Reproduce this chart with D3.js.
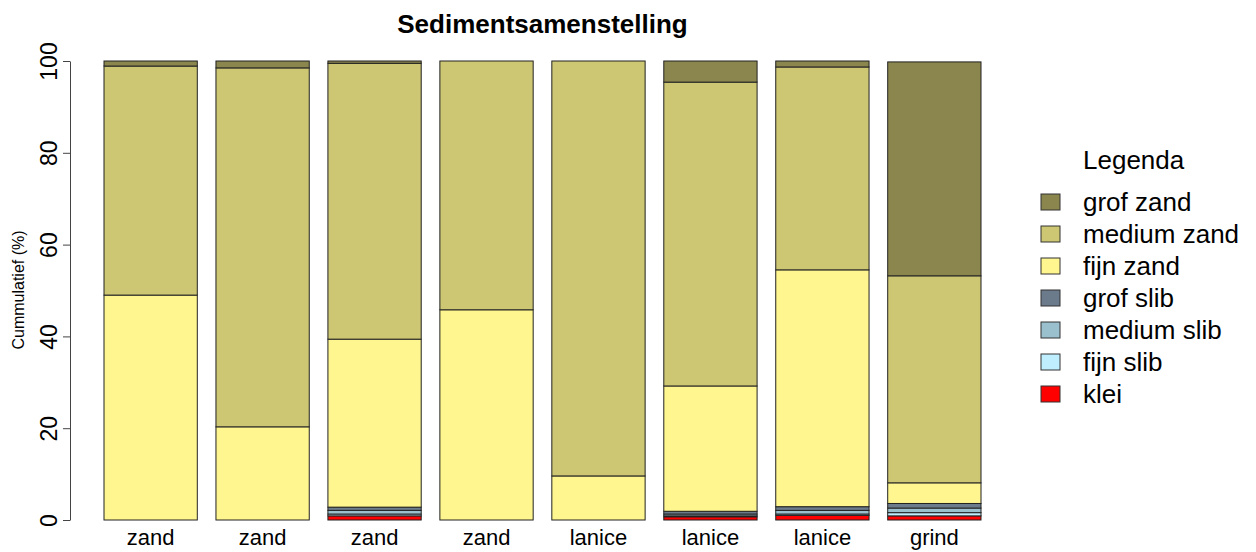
<!DOCTYPE html>
<html><head><meta charset="utf-8">
<script src="https://cdn.jsdelivr.net/npm/d3@7"></script>
<style>body{margin:0;background:#fff;} text{font-family:"Liberation Sans",Arial,sans-serif;}</style>
</head><body>
<svg id="c" width="1256" height="552"></svg>
<script>
const barLabels = ["zand","zand","zand","zand","lanice","lanice","lanice","grind"];
const klei       = [0, 0, 0.9, 0, 0, 0.7, 1.0, 0.9];
const fijnSlib   = [0, 0, 0.4, 0, 0, 0.2, 0.3, 0.7];
const mediumSlib = [0, 0, 0.8, 0, 0, 0.4, 0.8, 1.0];
const grofSlib   = [0, 0, 0.7, 0, 0, 0.6, 0.8, 1.0];
const fijnZand   = [49.0, 20.3, 36.6, 45.8, 9.6, 27.3, 51.6, 4.5];
const mediumZand = [49.9, 78.2, 60.1, 54.2, 90.4, 66.2, 44.2, 45.1];
const grofZand   = [1.1, 1.5, 0.5, 0, 0, 4.6, 1.3, 46.6];
const yTicks = [0, 20, 40, 60, 80, 100];
const seriesNames = ["klei","fijn slib","medium slib","grof slib","fijn zand","medium zand","grof zand"];
const seriesColors = ["#FF0000","#BFEFFF","#9AC0CD","#6C7B8B","#FFF68F","#CDC673","#8B864E"];
const titleText = "Sedimentsamenstelling";
const yLabel = "Cummulatief (%)";
const legendTitle = "Legenda";

const seriesVals = [klei, fijnSlib, mediumSlib, grofSlib, fijnZand, mediumZand, grofZand];
const rows = barLabels.map((l, i) => {
  const r = {i: i};
  seriesNames.forEach((s, k) => r[s] = seriesVals[k][i]);
  return r;
});
const stacked = d3.stack().keys(seriesNames)(rows);

const svg = d3.select("#c");
const x = d3.scaleBand().domain(d3.range(barLabels.length)).range([104, 981]).paddingInner(0.1667).paddingOuter(0);
const y = d3.scaleLinear().domain([0, 100]).range([520, 61]);
const color = d3.scaleOrdinal().domain(seriesNames).range(seriesColors);

svg.append("g").selectAll("g").data(stacked).join("g")
  .attr("fill", d => color(d.key))
  .selectAll("rect").data(d => d).join("rect")
  .attr("x", d => x(d.data.i))
  .attr("width", x.bandwidth())
  .attr("y", d => y(d[1]))
  .attr("height", d => Math.max(0, y(d[0]) - y(d[1])))
  .attr("stroke", "#222")
  .attr("stroke-width", 1);

// y axis
const yAxis = svg.append("g").attr("transform", "translate(70,0)")
  .call(d3.axisLeft(y).tickValues(yTicks).tickSize(7).tickSizeOuter(0));
yAxis.select(".domain").attr("stroke", "#444");
yAxis.selectAll(".tick line").attr("stroke", "#444");
yAxis.selectAll(".tick text").remove();
yAxis.selectAll(".tick").append("text")
  .attr("transform", "translate(-13,0) rotate(-90)")
  .attr("text-anchor", "middle")
  .attr("fill", "#000")
  .attr("font-size", 23)
  .attr("font-family", "Liberation Sans, Arial, sans-serif")
  .text(d => d);

// x labels
svg.append("g").selectAll("text").data(barLabels).join("text")
  .attr("x", (d, i) => x(i) + x.bandwidth() / 2)
  .attr("y", 545)
  .attr("text-anchor", "middle")
  .attr("font-size", 22)
  .text(d => d);

svg.append("text")
  .attr("transform", "translate(24,290) rotate(-90)")
  .attr("text-anchor", "middle")
  .attr("font-size", 16)
  .text(yLabel);

svg.append("text")
  .attr("x", 542.5).attr("y", 33)
  .attr("text-anchor", "middle")
  .attr("font-size", 26).attr("font-weight", "bold")
  .text(titleText);

// legend
const lg = svg.append("g");
lg.append("text").attr("x", 1083).attr("y", 169).attr("font-size", 26).text(legendTitle);
const legendOrder = seriesNames.slice().reverse();
const li = lg.selectAll("g.li").data(legendOrder).join("g").attr("class", "li")
  .attr("transform", (d, i) => `translate(0,${202 + i * 32})`);
li.append("rect").attr("x", 1041).attr("y", -8).attr("width", 19).attr("height", 16)
  .attr("fill", d => color(d)).attr("stroke", "#333").attr("stroke-width", 1);
li.append("text").attr("x", 1083).attr("y", 9).attr("font-size", 26).text(d => d);
</script>
</body></html>
